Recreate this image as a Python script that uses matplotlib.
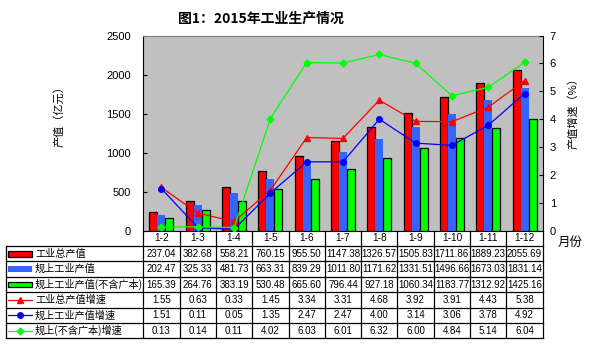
import matplotlib
matplotlib.use("Agg")
import matplotlib.pyplot as plt
import numpy as np
from matplotlib.patches import Rectangle

plt.rcParams['font.family'] = ['Noto Sans CJK SC', 'DejaVu Sans']

# 数据
months = ['1-2', '1-3', '1-4', '1-5', '1-6', '1-7', '1-8', '1-9', '1-10', '1-11', '1-12']
total_val = [237.04, 382.68, 558.21, 760.15, 955.50, 1147.38, 1326.57, 1505.83, 1711.86, 1889.23, 2055.69]
above_val = [202.47, 325.33, 481.73, 663.31, 839.29, 1011.80, 1171.62, 1331.51, 1496.66, 1673.03, 1831.14]
above_ex_val = [165.39, 264.76, 383.19, 530.48, 665.60, 796.44, 927.18, 1060.34, 1183.77, 1312.92, 1425.16]
total_gr = [1.55, 0.63, 0.33, 1.45, 3.34, 3.31, 4.68, 3.92, 3.91, 4.43, 5.38]
above_gr = [1.51, 0.11, 0.05, 1.35, 2.47, 2.47, 4.00, 3.14, 3.06, 3.78, 4.92]
above_ex_gr = [0.13, 0.14, 0.11, 4.02, 6.03, 6.01, 6.32, 6.00, 4.84, 5.14, 6.04]

row_names = ['工业总产值', '规上工业产值', '规上工业产值(不含广本)',
             '工业总产值增速', '规上工业产值增速', '规上(不含广本)增速']

W, H = 600, 344
fig = plt.figure(figsize=(6, 3.44), dpi=100)
fig.patch.set_facecolor('white')

# 主图区域（像素位置）
L, R, T, B = 143.3, 542.7, 35.5, 230.7
ax = fig.add_axes([L / W, 1 - B / H, (R - L) / W, (B - T) / H])
ax.set_facecolor('#C0C0C0')
x = np.arange(len(months))
bw = 0.22
ax.bar(x - bw, total_val, bw, color='#FF0000', edgecolor='black', linewidth=0.9, zorder=2)
ax.bar(x, above_val, bw, color='#3366FF', linewidth=0, zorder=2)
ax.bar(x + bw, above_ex_val, bw, color='#00FF00', edgecolor='black', linewidth=0.9, zorder=3)
ax.set_xlim(-0.5, len(months) - 0.5)
ax.set_ylim(0, 2500)
ax.set_yticks(range(0, 2501, 500))
ax.set_xticks([])
ax.tick_params(axis='y', direction='in', length=3, pad=9, labelsize=8, labelfontfamily='Liberation Sans')
for s in ['left', 'bottom']:
    ax.spines[s].set_color('black')
ax.spines['top'].set_color('#808080')
ax.spines['right'].set_visible(False)

ax2 = ax.twinx()
ax2.plot(x, total_gr, color='#FF0000', lw=0.9, marker='^', ms=5, zorder=4)
ax2.plot(x, above_gr, color='#0000FF', lw=0.9, marker='o', ms=4, zorder=4)
ax2.plot(x, above_ex_gr, color='#00FF00', lw=0.9, marker='D', ms=3.5, zorder=4)
ax2.set_ylim(0, 7)
ax2.set_yticks(range(0, 8))
ax2.tick_params(axis='y', direction='in', length=3, pad=5, labelsize=8, labelfontfamily='Liberation Sans')
ax2.spines['right'].set_color('black')
ax2.spines['top'].set_visible(False)
ax2.spines['left'].set_visible(False)
ax2.spines['bottom'].set_visible(False)

# 表格
TL, TB = 5.5, 338.3
colw = (R - L) / len(months)
lab_w = (L - TL) / colw
tax = fig.add_axes([TL / W, 1 - TB / H, (R - TL) / W, (TB - B) / H])
tax.set_xlim(-0.5 - lab_w, len(months) - 0.5)
tax.set_ylim(7, 0)
tax.axis('off')
x0 = -0.5 - lab_w
for r in range(1, 8):
    tax.plot([x0, len(months) - 0.5], [r, r], color='black', lw=0.9, clip_on=False)
tax.plot([x0, x0], [1, 7], color='black', lw=0.9, clip_on=False)
for c in range(len(months) + 1):
    tax.plot([c - 0.5, c - 0.5], [0, 7], color='black', lw=0.9, clip_on=False)
for i, m in enumerate(months):
    tax.text(i, 0.5, m, ha='center', va='center', fontsize=7.3, family='Liberation Sans')

rows = [total_val, above_val, above_ex_val, total_gr, above_gr, above_ex_gr]
for r, vals in enumerate(rows):
    for i, v in enumerate(vals):
        tax.text(i, r + 1.5, '%.2f' % v, ha='center', va='center', fontsize=7, family='Liberation Sans')

px = 1.0 / colw
sw0, sw1 = x0 + 2.5 * px, x0 + 26.5 * px
bar_cols = [('#FF0000', 'black'), ('#3366FF', 'none'), ('#00FF00', 'black')]
for r, (fc, ec) in enumerate(bar_cols):
    tax.add_patch(Rectangle((sw0, r + 1.5 - 0.18), sw1 - sw0, 0.36, facecolor=fc,
                            edgecolor=ec, linewidth=0.9, clip_on=False))
line_sty = [('#FF0000', '^', 5), ('#0000FF', 'o', 4), ('#00FF00', 'D', 3.5)]
for r, (c, mk, ms) in enumerate(line_sty):
    yy = r + 4.5
    tax.plot([sw0, sw1], [yy, yy], color=c, lw=0.9, clip_on=False)
    tax.plot([(sw0 + sw1) / 2], [yy], color=c, marker=mk, ms=ms, clip_on=False)
for r, name in enumerate(row_names):
    tax.text(x0 + 29.5 * px, r + 1.5, name, ha='left', va='center', fontsize=7.3)

# 标题和轴标签
fig.text(261 / W, 1 - 18.5 / H, '图1：2015年工业生产情况', ha='center', va='center',
         fontsize=10, fontweight='bold')
fig.text(59 / W, 1 - 114 / H, '产值（亿元）', rotation=90, ha='center', va='center', fontsize=8)
fig.text(573 / W, 1 - 111 / H, '产值增速（%）', rotation=90, ha='center', va='center', fontsize=8)
fig.text(570 / W, 1 - 242 / H, '月份', ha='center', va='center', fontsize=9)

fig.savefig('out.png', dpi=100)
